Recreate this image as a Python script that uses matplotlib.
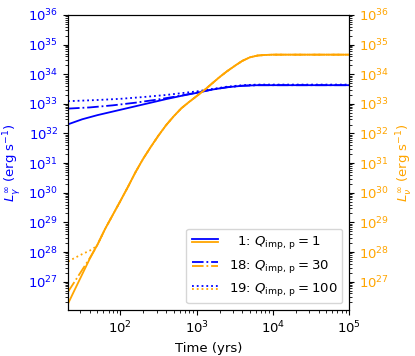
import matplotlib
matplotlib.use('Agg')
import numpy as np
import matplotlib.pyplot as plt
from matplotlib.legend_handler import HandlerBase
from matplotlib.lines import Line2D

plt.rcParams['font.size'] = 9.5

# log10(time / yr) and log10(L / erg s^-1)
t_gam_1 = [1.314, 1.5, 1.7, 2.0, 2.3, 2.6, 2.8, 3.0, 3.2, 3.4, 3.6, 3.8, 4.0, 5.0]
L_gam_1 = [32.31, 32.48, 32.62, 32.80, 32.98, 33.16, 33.27, 33.37, 33.48, 33.56, 33.61, 33.63, 33.63, 33.63]

t_gam_18 = [1.314, 1.6, 1.9, 2.2, 2.5, 2.8, 3.0, 3.2, 3.4, 3.6, 3.8, 4.0, 5.0]
L_gam_18 = [32.84, 32.88, 32.95, 33.04, 33.15, 33.28, 33.38, 33.48, 33.56, 33.61, 33.63, 33.63, 33.63]

t_gam_19 = [1.314, 1.7, 2.0, 2.3, 2.6, 2.8, 3.0, 3.2, 3.4, 3.6, 3.8, 4.0, 5.0]
L_gam_19 = [33.09, 33.13, 33.17, 33.23, 33.30, 33.36, 33.42, 33.50, 33.58, 33.63, 33.65, 33.65, 33.65]

t_nu_tail = [1.7, 1.8, 1.9, 2.0, 2.1, 2.2, 2.3, 2.4, 2.5, 2.6, 2.7, 2.8, 2.9,
             3.0, 3.1, 3.2, 3.3, 3.4, 3.5, 3.6, 3.7, 3.8, 3.9, 4.0, 5.0]
L_nu_tail = [28.25, 28.78, 29.25, 29.72, 30.20, 30.70, 31.15, 31.55, 31.93, 32.28, 32.58, 32.85, 33.06,
             33.26, 33.46, 33.68, 33.90, 34.10, 34.28, 34.45, 34.57, 34.63, 34.65, 34.66, 34.66]

t_nu_1 = [1.314, 1.4, 1.5, 1.6] + t_nu_tail
L_nu_1 = [26.26, 26.72, 27.25, 27.78] + L_nu_tail
t_nu_18 = [1.314, 1.4, 1.5, 1.6] + t_nu_tail
L_nu_18 = [26.66, 27.0, 27.4, 27.8] + L_nu_tail
t_nu_19 = [1.314, 1.4, 1.5, 1.6, 1.68] + t_nu_tail
L_nu_19 = [27.68, 27.8, 27.93, 28.05, 28.18] + L_nu_tail

labels = ['  1: $Q_{\\rm imp,\\,p} = 1$',
          '18: $Q_{\\rm imp,\\,p} = 30$',
          '19: $Q_{\\rm imp,\\,p} = 100$']


class HandlerPair(HandlerBase):
    def create_artists(self, legend, orig_handle, xdescent, ydescent,
                       width, height, fontsize, trans):
        out = []
        for ln, f in zip(orig_handle, (0.68, 0.32)):
            y = height * f - ydescent
            out.append(Line2D([-xdescent, width - xdescent], [y, y],
                              color=ln.get_color(), linestyle=ln.get_linestyle(),
                              linewidth=ln.get_linewidth(), transform=trans))
        return out


fig = plt.figure(figsize=(4.15, 3.56), dpi=100)
ax1 = fig.add_axes([0.164, 0.129, 0.677, 0.829])
ax2 = ax1.twinx()

lw = 1.3
g1, = ax1.plot(10**np.array(t_gam_1), 10**np.array(L_gam_1), '-', color='blue', lw=lw)
g18, = ax1.plot(10**np.array(t_gam_18), 10**np.array(L_gam_18), '-.', color='blue', lw=lw)
g19, = ax1.plot(10**np.array(t_gam_19), 10**np.array(L_gam_19), ':', color='blue', lw=lw)

n1, = ax2.plot(10**np.array(t_nu_1), 10**np.array(L_nu_1), '-', color='orange', lw=lw)
n18, = ax2.plot(10**np.array(t_nu_18), 10**np.array(L_nu_18), '-.', color='orange', lw=lw)
n19, = ax2.plot(10**np.array(t_nu_19), 10**np.array(L_nu_19), ':', color='orange', lw=lw)

for ax in (ax1, ax2):
    ax.set_xscale('log')
    ax.set_yscale('log')
    ax.set_xlim(10**1.314, 1e5)
    ax.set_ylim(1.1e26, 1e36)

ax1.set_xlabel('Time (yrs)')
ax1.set_ylabel(r'$L_\gamma^\infty$ (erg s$^{-1}$)', color='blue')
ax2.set_ylabel(r'$L_\nu^\infty$ (erg s$^{-1}$)', color='orange')
for tl in ax1.get_yticklabels():
    tl.set_color('blue')
for tl in ax2.get_yticklabels():
    tl.set_color('orange')

ax2.legend([(g1, n1), (g18, n18), (g19, n19)], labels,
           handler_map={tuple: HandlerPair()}, loc='lower right')

fig.savefig('out.png', dpi=100)
